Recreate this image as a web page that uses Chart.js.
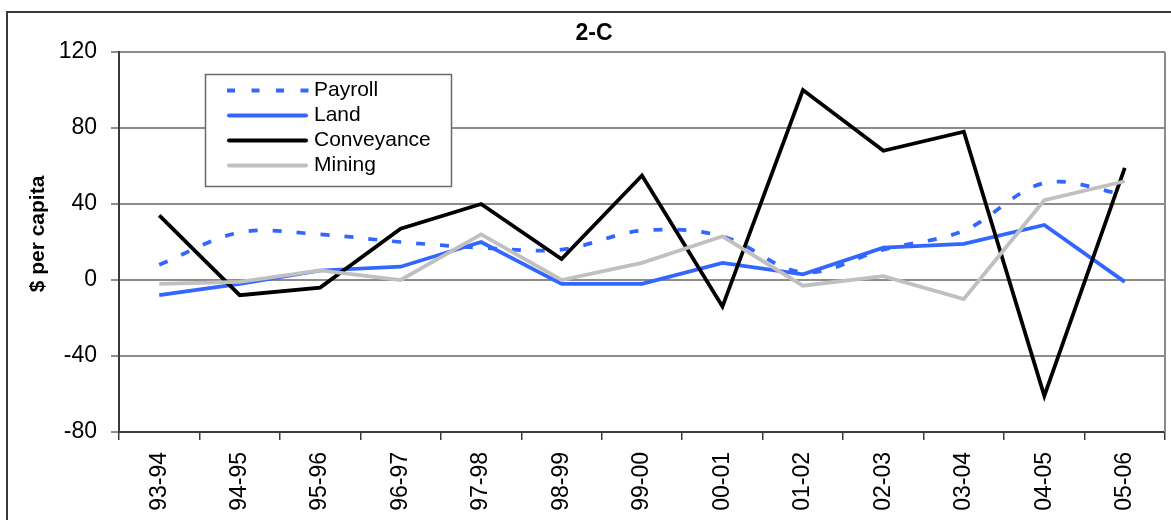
<!DOCTYPE html>
<html>
<head>
<meta charset="utf-8">
<script src="https://cdn.jsdelivr.net/npm/chart.js@4.4.1/dist/chart.umd.min.js"></script>
<style>
  html, body { margin: 0; padding: 0; background: #ffffff; }
  #wrap { width: 1171px; height: 520px; position: relative; }
</style>
</head>
<body>
<div id="wrap"><canvas id="chart" width="1171" height="520"></canvas></div>
<script>
// Fiscal years on the category axis
const years = ['93-94', '94-95', '95-96', '96-97', '97-98', '98-99', '99-00',
               '00-01', '01-02', '02-03', '03-04', '04-05', '05-06'];

// Year-on-year change, $ per capita
const payroll    = [8, 25, 24, 20, 17, 16, 26, 23, 4, 16, 26, 51, 45];
const land       = [-8, -2, 5, 7, 20, -2, -2, 9, 3, 17, 19, 29, -1];
const conveyance = [34, -8, -4, 27, 40, 11, 55, -14, 100, 68, 78, -61, 59];
const mining     = [-2, -1, 5, 0, 24, 0, 9, 23, -3, 2, -10, 42, 52];

// Value axis tick labels
const yTicks = [-80, -40, 0, 40, 80, 120];

const chartTitle = '2-C';
const yAxisTitle = '$ per capita';

const FONT = '"Liberation Sans", Arial, Helvetica, sans-serif';
const BLUE = '#3366ff';
const GREY = '#c0c0c0';

// Outer frame, plot border on the right, titles and the boxed legend
const decorations = {
  id: 'decorations',
  beforeDraw(chart) {
    const ctx = chart.ctx;
    ctx.save();
    ctx.fillStyle = '#ffffff';
    ctx.fillRect(0, 0, chart.width, chart.height);
    ctx.strokeStyle = '#3a3a3a';
    ctx.lineWidth = 2;
    ctx.strokeRect(7, 12, chart.width + 20, chart.height + 20);
    ctx.restore();
  },
  beforeDatasetsDraw(chart) {
    const { ctx, chartArea } = chart;
    ctx.save();
    ctx.strokeStyle = '#8c8c8c';
    ctx.lineWidth = 2;
    ctx.beginPath();
    ctx.moveTo(chartArea.right, chartArea.top);
    ctx.lineTo(chartArea.right, chartArea.bottom);
    ctx.stroke();
    ctx.restore();
  },
  afterDraw(chart) {
    const ctx = chart.ctx;
    ctx.save();

    // chart title
    ctx.fillStyle = '#000000';
    ctx.font = 'bold 23px ' + FONT;
    ctx.textAlign = 'center';
    ctx.textBaseline = 'alphabetic';
    ctx.fillText(chartTitle, 594, 40);

    // value axis title
    ctx.save();
    ctx.font = 'bold 21px ' + FONT;
    ctx.translate(38, 234);
    ctx.rotate(-Math.PI / 2);
    ctx.textBaseline = 'middle';
    ctx.fillText(yAxisTitle, 0, 0);
    ctx.restore();

    // legend box
    const bx = 205, by = 74, bw = 246, bh = 112;
    ctx.fillStyle = '#ffffff';
    ctx.fillRect(bx, by, bw, bh);
    ctx.strokeStyle = '#6a6a6a';
    ctx.lineWidth = 1.5;
    ctx.strokeRect(bx + 0.5, by + 0.5, bw, bh);

    ctx.font = '21px ' + FONT;
    ctx.textAlign = 'left';
    ctx.textBaseline = 'alphabetic';
    chart.data.datasets.forEach((ds, i) => {
      const base = 96 + i * 25;
      const ly = base - 5.5;
      const dashed = ds.borderDash && ds.borderDash.length;
      ctx.save();
      ctx.strokeStyle = ds.borderColor;
      ctx.lineWidth = 4;
      if (dashed) {
        ctx.setLineDash([8, 16.5]);
        ctx.lineCap = 'butt';
      } else {
        ctx.setLineDash([]);
        ctx.lineCap = 'round';
      }
      ctx.beginPath();
      ctx.moveTo(dashed ? 227 : 229, ly);
      ctx.lineTo(dashed ? 310 : 306, ly);
      ctx.stroke();
      ctx.restore();
      ctx.fillStyle = '#000000';
      ctx.fillText(ds.label, 314, base);
    });
    ctx.restore();
  }
};

Chart.defaults.color = '#000000';
Chart.defaults.font.family = FONT;

new Chart(document.getElementById('chart'), {
  type: 'line',
  data: {
    labels: years,
    datasets: [
      { label: 'Payroll', data: payroll, borderColor: BLUE, borderWidth: 3.75,
        borderDash: [9, 15], tension: 0.35, order: 4 },
      { label: 'Land', data: land, borderColor: BLUE, borderWidth: 3.75,
        tension: 0, order: 3 },
      { label: 'Conveyance', data: conveyance, borderColor: '#000000', borderWidth: 3.75,
        tension: 0, order: 2 },
      { label: 'Mining', data: mining, borderColor: GREY, borderWidth: 3.75,
        tension: 0, order: 1 }
    ]
  },
  options: {
    responsive: false,
    animation: false,
    devicePixelRatio: 1,
    layout: { padding: { left: 0, right: 6, top: 52, bottom: 0 } },
    elements: { point: { radius: 0, hoverRadius: 0 }, line: { fill: false } },
    plugins: {
      legend: { display: false },
      title: { display: false },
      tooltip: { enabled: false }
    },
    scales: {
      x: {
        type: 'category',
        offset: true,
        grid: { offset: true, drawOnChartArea: false, drawTicks: true,
                tickLength: 8, color: '#3a3a3a', lineWidth: 1.5 },
        border: { display: true, color: '#3a3a3a', width: 2 },
        ticks: { autoSkip: false, minRotation: 90, maxRotation: 90, padding: 12,
                 color: '#000000', font: { size: 23, family: FONT } },
        afterFit(scale) { scale.height = 88; }
      },
      y: {
        min: yTicks[0],
        max: yTicks[yTicks.length - 1],
        afterBuildTicks(scale) { scale.ticks = yTicks.map(v => ({ value: v })); },
        grid: { color: '#8c8c8c', lineWidth: 2, tickLength: 8, drawTicks: true },
        border: { display: true, color: '#3a3a3a', width: 2 },
        ticks: { padding: 14, color: '#000000', font: { size: 23, family: FONT } },
        afterFit(scale) { scale.width = 119; }
      }
    }
  },
  plugins: [decorations]
});
</script>
</body>
</html>
